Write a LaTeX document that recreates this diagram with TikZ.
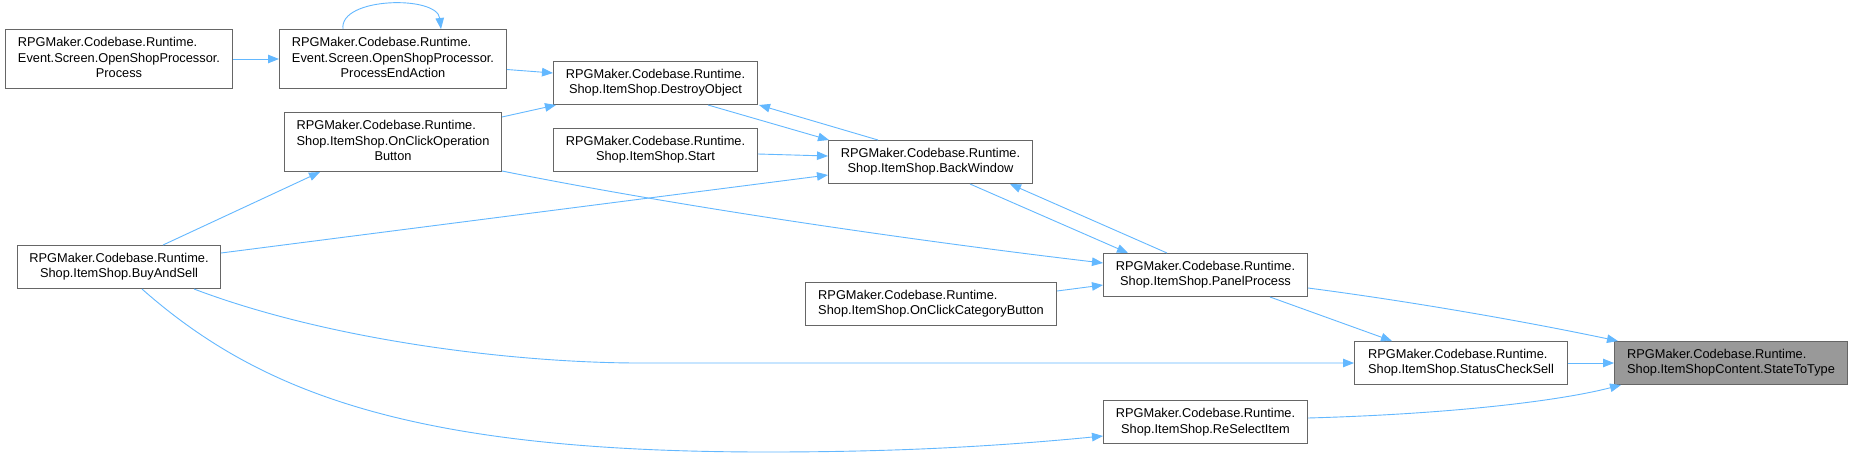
\documentclass[tikz,border=0pt]{standalone}
\usepackage{fontspec}
\setmainfont{Liberation Sans}
\usetikzlibrary{arrows.meta,calc}
\definecolor{edgec}{HTML}{63B8FF}
\definecolor{bordc}{HTML}{666666}
\definecolor{rootc}{HTML}{999999}
\newcommand{\nlab}[2]{\begin{tabular}{@{}l@{}}#1\\\multicolumn{1}{@{}c@{}}{#2}\end{tabular}}
\begin{document}
\begin{tikzpicture}[x=1pt,y=-1pt,
  box/.style={draw=bordc,line width=1pt,fill=white,inner sep=0pt,anchor=north west,font=\fontsize{12.8}{15.7}\selectfont},
  htwo/.style={minimum height=43pt},
  hthree/.style={minimum height=59pt},
  edge/.style={draw=edgec,line width=0.9pt,-{Triangle[length=11pt,width=8.5pt]}}]
\fill[white] (0,0) rectangle (1852,459);
\useasboundingbox (0,0) rectangle (1852,459);

\node[box,hthree,minimum width=227pt] (proc) at (5,29) {\nlab{RPGMaker.Codebase.Runtime.\\Event.Screen.OpenShopProcessor.}{Process}};
\node[box,hthree,minimum width=227pt] (pea) at (279,29) {\nlab{RPGMaker.Codebase.Runtime.\\Event.Screen.OpenShopProcessor.}{ProcessEndAction}};
\node[box,htwo,minimum width=204pt] (dobj) at (553,61) {\nlab{RPGMaker.Codebase.Runtime.}{Shop.ItemShop.DestroyObject}};
\node[box,hthree,minimum width=217pt] (ocob) at (284,112) {\nlab{RPGMaker.Codebase.Runtime.\\Shop.ItemShop.OnClickOperation}{Button}};
\node[box,htwo,minimum width=204pt] (start) at (553,128) {\nlab{RPGMaker.Codebase.Runtime.}{Shop.ItemShop.Start}};
\node[box,htwo,minimum width=204pt] (back) at (828,140) {\nlab{RPGMaker.Codebase.Runtime.}{Shop.ItemShop.BackWindow}};
\node[box,htwo,minimum width=203pt] (bas) at (17,245) {\nlab{RPGMaker.Codebase.Runtime.}{Shop.ItemShop.BuyAndSell}};
\node[box,htwo,minimum width=204pt] (pp) at (1103,253) {\nlab{RPGMaker.Codebase.Runtime.}{Shop.ItemShop.PanelProcess}};
\node[box,htwo,minimum width=251pt] (occb) at (805,282) {\nlab{RPGMaker.Codebase.Runtime.}{Shop.ItemShop.OnClickCategoryButton}};
\node[box,htwo,minimum width=213pt] (scs) at (1354,341) {\nlab{RPGMaker.Codebase.Runtime.}{Shop.ItemShop.StatusCheckSell}};
\node[box,htwo,minimum width=233pt,fill=rootc] (stt) at (1614,341) {\nlab{RPGMaker.Codebase.Runtime.}{Shop.ItemShopContent.StateToType}};
\node[box,htwo,minimum width=204pt] (rsi) at (1103,400) {\nlab{RPGMaker.Codebase.Runtime.}{Shop.ItemShop.ReSelectItem}};

\draw[edge] (proc.east) -- (pea.west);
\draw[edge] ($(pea.north west)+(64,0)$) .. controls +(-4,-32) and +(-4,-34) .. ($(pea.north west)+(162,0)$);
\draw[edge] ($(pea.north east)+(0,40.5)$) -- ($(dobj.north west)+(0,12)$);
\draw[edge] ($(ocob.north east)+(0,5)$) -- ($(dobj.south west)+(3,0)$);
\draw[edge] ($(dobj.south west)+(155,0)$) -- ($(back.north west)+(1,0)$);
\draw[edge] ($(back.north west)+(50,0)$) -- ($(dobj.south east)+(1,0)$);
\draw[edge] ($(start.north east)+(0,26)$) -- ($(back.north west)+(0,16)$);
\draw[edge] ($(bas.north east)+(0,8)$) -- ($(back.north west)+(0,35)$);
\draw[edge] ($(bas.north west)+(146,0)$) -- ($(ocob.south west)+(36,0)$);
\draw[edge] ($(ocob.south east)+(0,-1)$) .. controls +(199,40) and +(-153,-18) .. ($(pp.north west)+(0,10)$);
\draw[edge] ($(back.south west)+(142,0)$) -- ($(pp.north west)+(25,0)$);
\draw[edge] ($(pp.north west)+(64,0)$) -- ($(back.south west)+(182,0)$);
\draw[edge] ($(occb.north east)+(0,9)$) -- ($(pp.north west)+(0,32)$);
\draw[edge] ($(pp.north east)+(0,35)$) .. controls +(100,13) and +(-95,-20) .. ($(stt.north west)+(4,0)$);
\draw[edge] ($(pp.south west)+(167,0)$) -- ($(scs.north west)+(38,0)$);
\draw[edge] (scs.east) -- (stt.west);
\draw[edge] ($(bas.south west)+(177,0)$) .. controls +(140,53) and +(-120,0) .. ($(scs.west)+(-714,0)$) -- (scs.west);
\draw[edge] ($(bas.south west)+(125,0)$) .. controls +(120,106) and +(-350,0) .. ($(rsi.north west)+(-336,52)$) .. controls +(133,0) and +(-103,10) .. ($(rsi.north west)+(0,36)$);
\draw[edge] ($(rsi.north east)+(0,18)$) .. controls +(143,-4) and +(-62,16) .. ($(stt.south west)+(7,0)$);
\end{tikzpicture}
\end{document}
